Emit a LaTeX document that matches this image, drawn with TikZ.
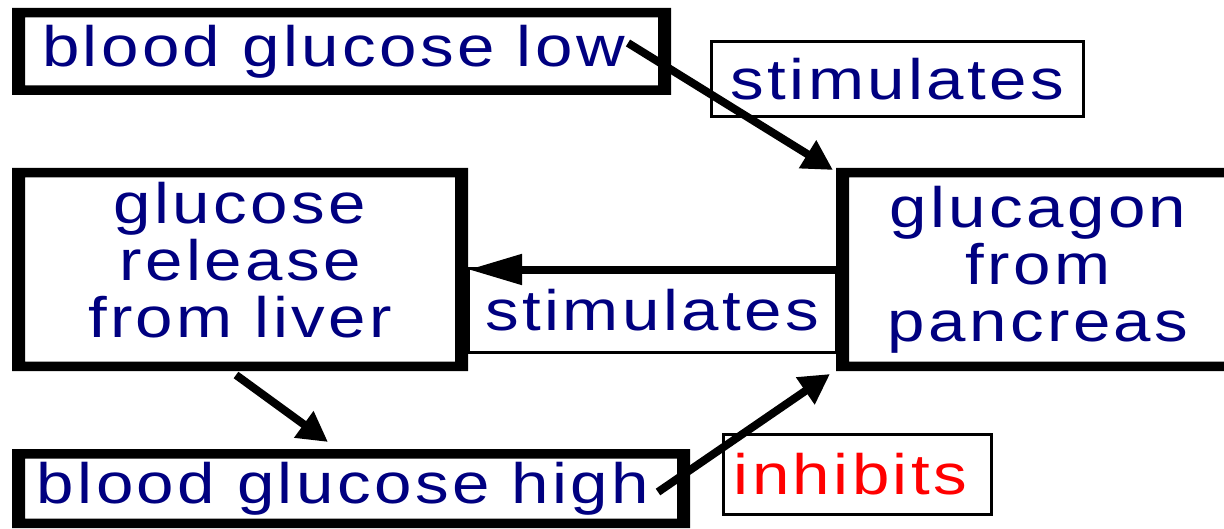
\documentclass[tikz,border=0pt]{standalone}
\usepackage{fontspec}
\setmainfont{Liberation Sans}[FakeStretch=1.18,LetterSpace=6]
\usetikzlibrary{arrows.meta,calc}
\definecolor{txtblue}{RGB}{0,0,128}
\begin{document}
\begin{tikzpicture}[x={(0.5pt,0)}, y={(0,-0.5pt)},
  every node/.style={font=\fontsize{28.5pt}{28.5pt}\selectfont, inner sep=0pt, outer sep=0pt, align=center},
  heavy/.style={fill=white, text=txtblue, path picture={\fill[black,even odd rule] (path picture bounding box.south west) rectangle (path picture bounding box.north east) ([shift={(6.5pt,4.75pt)}]path picture bounding box.south west) rectangle ([shift={(-6.5pt,-4.75pt)}]path picture bounding box.north east);}},
  thinbox/.style={draw, fill=white, line width=1.5pt},
  arr/.style={line width=4pt, -{Triangle[length=15pt,width=15.5pt]}},
]
\useasboundingbox (0,0) rectangle (1224,529);
\clip (0,0) rectangle (1224,529);
% thin label boxes
\node[thinbox, minimum width=186pt, minimum height=37.5pt, text=txtblue] (stim1) at (897.5,79) {stimulates};
\node[thinbox, minimum width=184pt, minimum height=42pt, text=txtblue] (stim2) at (652,310) {stimulates};
\node[thinbox, minimum width=134pt, minimum height=40pt, text=red] (inh) at (857.5,474.5) {\hspace*{-7pt}inhibits};
% heavy boxes
\node[heavy, minimum width=329.5pt, minimum height=43.5pt] (blow) at (341.5,51.5) {\hspace*{-8pt}blood glucose low};
\node[heavy, minimum width=228pt, minimum height=101.5pt, text depth=10pt] (liver) at (240,269.5) {glucose\\release\\from liver};
\node[heavy, minimum width=202pt, minimum height=101.5pt] (gluc) at (1038,269.5) {glucagon\\from\\pancreas};
\node[heavy, minimum width=339pt, minimum height=39.5pt] (high) at (351,488.5) {\hspace*{-8pt}blood glucose high};
% arrows
\draw[arr] ($(blow.north east)+(-43,35)$) -- ($(gluc.north west)+(-3,2)$);
\draw[line width=4pt, -{Triangle[length=27pt,width=14.5pt]}] (gluc.west) -- (gluc.west -| liver.east);
\draw[arr] ($(liver.south)+(-4,4)$) -- ($(high.north)+(-23,-7)$);
\draw[arr] ($(high.east)+(-32,3.5)$) -- ($(gluc.south west)+(-6,3)$);
\end{tikzpicture}
\end{document}
